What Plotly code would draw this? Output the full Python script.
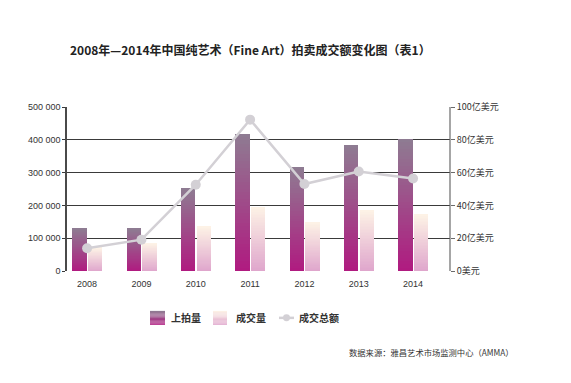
import plotly.graph_objects as go

years = ["2008", "2009", "2010", "2011", "2012", "2013", "2014"]
offered = [131000, 131000, 252000, 419000, 318000, 384000, 402000]      # 上拍量
sold = [71000, 85000, 136000, 196000, 148000, 186000, 172000]           # 成交量
turnover = [13.9, 19.1, 52.6, 92.3, 53.0, 60.7, 56.4]                  # 成交总额 (亿美元)
left_ticks = [0, 100000, 200000, 300000, 400000, 500000]
left_labels = ["0", "100 000", "200 000", "300 000", "400 000", "500 000"]
right_ticks = [0, 20, 40, 60, 80, 100]
right_labels = ["0美元", "20亿美元", "40亿美元", "60亿美元", "80亿美元", "100亿美元"]

FONT = "Noto Sans CJK SC"
N = 40

# page body has an 8px margin: design in window coordinates minus 8
OX, OY = 8, 8
W, H = 571 - 2 * OX, 383 - 2 * OY
PL, PT, PW, PH = 67 - OX, 106.5 - OY, 383, 164.5


def px(xw):  # window x -> paper x
    return (xw - 67) / PW


def py(yw):  # window y -> paper y
    return (271 - yw) / PH


def lerp(c1, c2, t):
    return "rgb(%d,%d,%d)" % tuple(round(a + (b - a) * t) for a, b in zip(c1, c2))


off_bot, off_top = (176, 26, 128), (142, 124, 146)
sold_bot, sold_top = (223, 165, 204), (253, 243, 230)

x = list(range(len(years)))
fig = go.Figure()
bw = 0.265
for k in range(N):
    t = (k + 0.5) / N
    fig.add_trace(go.Bar(
        x=x, y=[v / N for v in offered], base=[v * k / N for v in offered],
        width=bw, offset=-bw - 0.005, marker=dict(color=lerp(off_bot, off_top, t), line=dict(width=0)),
        showlegend=False, hoverinfo="skip"))
    fig.add_trace(go.Bar(
        x=x, y=[v / N for v in sold], base=[v * k / N for v in sold],
        width=bw, offset=0.015, marker=dict(color=lerp(sold_bot, sold_top, t), line=dict(width=0)),
        showlegend=False, hoverinfo="skip"))

fig.add_trace(go.Scatter(
    x=x, y=turnover, yaxis="y2", mode="lines+markers",
    line=dict(color="#d3d0d5", width=2.5),
    marker=dict(color="#d3d0d5", size=10), showlegend=False))

# legend (manual)
shapes = []
M = 12
for (x0, x1, cb, ct) in [(150, 165, off_bot, off_top), (213, 227, sold_bot, sold_top)]:
    for k in range(M):
        y0 = 325 - 14 * k / M
        y1 = 325 - 14 * (k + 1) / M
        shapes.append(dict(type="rect", xref="paper", yref="paper",
                           x0=px(x0), x1=px(x1), y0=py(y0), y1=py(y1),
                           fillcolor=lerp(cb, ct, (k + 0.5) / M), line=dict(width=0), layer="above"))
shapes.append(dict(type="line", xref="paper", yref="paper",
                   x0=px(279), x1=px(294), y0=py(318), y1=py(318),
                   line=dict(color="#d3d0d5", width=2.5)))
shapes.append(dict(type="circle", xref="paper", yref="paper",
                   x0=px(283), x1=px(290), y0=py(314.5), y1=py(321.5),
                   fillcolor="#d3d0d5", line=dict(width=0)))

legend_font = dict(family=FONT, size=10, color="#333")
annotations = [
    dict(text="<b>2008年—2014年中国纯艺术（Fine Art）拍卖成交额变化图（表1）</b>",
         xref="paper", yref="paper", x=px(68), y=py(49),
         xanchor="left", yanchor="middle", showarrow=False,
         font=dict(family=FONT, size=12, color="#222")),
    dict(text="<b>上拍量</b>", xref="paper", yref="paper", x=px(169), y=py(318),
         xanchor="left", yanchor="middle", showarrow=False, font=legend_font),
    dict(text="<b>成交量</b>", xref="paper", yref="paper", x=px(234), y=py(318),
         xanchor="left", yanchor="middle", showarrow=False, font=legend_font),
    dict(text="<b>成交总额</b>", xref="paper", yref="paper", x=px(297), y=py(318),
         xanchor="left", yanchor="middle", showarrow=False, font=legend_font),
    dict(text="数据来源：雅昌艺术市场监测中心（AMMA）", xref="paper", yref="paper",
         x=px(347), y=py(352),
         xanchor="left", yanchor="middle", showarrow=False, font=dict(family=FONT, size=8.3, color="#333")),
]

# the right axis line
shapes.append(dict(type="line", xref="paper", yref="paper", x0=1, x1=1, y0=0, y1=1,
                   line=dict(color="#6a6a6a", width=1.2)))

fig.update_layout(
    width=W, height=H,
    margin=dict(l=PL, r=W - PL - PW, t=PT, b=H - PT - PH, pad=0),
    paper_bgcolor="white", plot_bgcolor="white",
    barmode="overlay", bargap=0,
    showlegend=False,
    font=dict(family=FONT, size=9, color="#333"),
    xaxis=dict(range=[-0.37, 6.68], tickmode="array", tickvals=x, ticktext=years,
               showgrid=False, zeroline=False, showline=False, ticks="",
               ticklabelstandoff=6,
               tickfont=dict(family="Liberation Sans, Arial", size=9, color="#333")),
    yaxis=dict(range=[0, 500000], tickmode="array", tickvals=left_ticks, ticktext=left_labels,
               showgrid=True, gridcolor="#3a3a3a", gridwidth=1.2, zeroline=False,
               showline=True, linecolor="#4a4a4a", linewidth=1.5,
               ticks="outside", ticklen=3, tickcolor="#3a3a3a",
               tickfont=dict(family="Liberation Sans, Arial", size=9, color="#333")),
    yaxis2=dict(range=[0, 100], overlaying="y", side="right", tickmode="array",
                tickvals=right_ticks, ticktext=right_labels, showgrid=False, zeroline=False,
                showline=False, ticks="outside", ticklen=4, tickcolor="#6a6a6a",
                tickfont=dict(family=FONT, size=9, color="#333")),
    shapes=shapes, annotations=annotations,
)

fig.write_html("out.html")
